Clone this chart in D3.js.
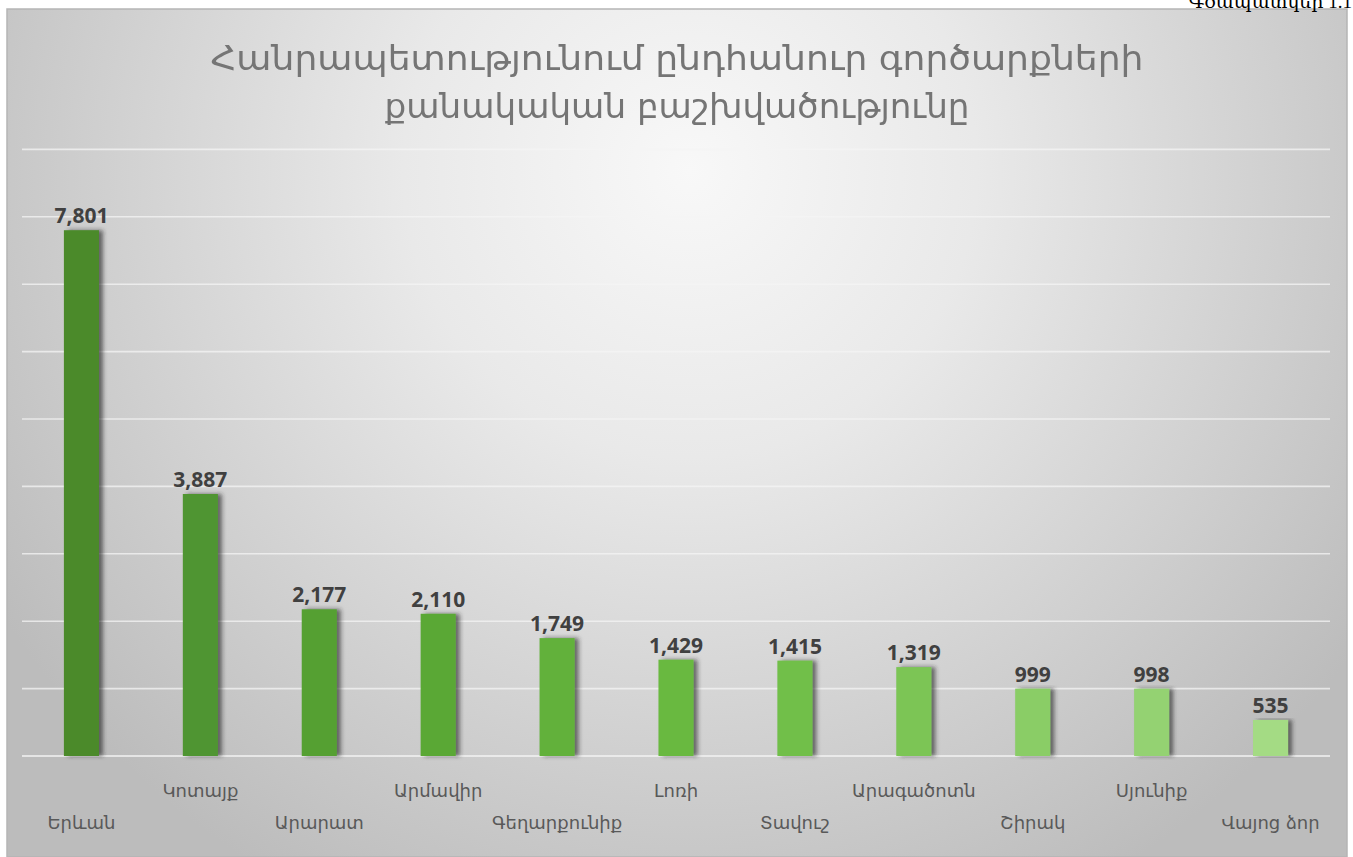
<!DOCTYPE html>
<html>
<head>
<meta charset="utf-8">
<script src="https://cdn.jsdelivr.net/npm/d3@7"></script>
<style>
  html, body { margin: 0; padding: 0; background: #fff; }
  svg { display: block; }
</style>
</head>
<body>
<svg id="chart" width="1353" height="857"></svg>
<script>
// Regions and number of general transactions
const regions = ["Երևան", "Կոտայք", "Արարատ", "Արմավիր", "Գեղարքունիք", "Լոռի",
                 "Տավուշ", "Արագածոտն", "Շիրակ", "Սյունիք", "Վայոց ձոր"];
const counts = [7801, 3887, 2177, 2110, 1749, 1429, 1415, 1319, 999, 998, 535];
const yTicks = [0, 1000, 2000, 3000, 4000, 5000, 6000, 7000, 8000, 9000];
const titleLines = ["Հանրապետությունում ընդհանուր գործարքների",
                    "քանակական բաշխվածությունը"];
const figureLabel = "Գծապատկեր 1.1";

// bar fills, dark to light green
const barFills = ["#4b8a2b", "#4f9530", "#55a032", "#5aa835", "#62b13a", "#69b941",
                  "#71bf49", "#7bc554", "#8acd66", "#94d272", "#a4db84"];

const svg = d3.select("#chart");
const frame = { x: 7, y: 9, w: 1340, h: 848 };
const plot = { left: 22, right: 1330, top: 149.4, bottom: 756 };

const defs = svg.append("defs");
const bg = defs.append("radialGradient").attr("id", "bgGrad")
  .attr("gradientUnits", "userSpaceOnUse")
  .attr("cx", 690).attr("cy", 170).attr("r", 820);
bg.append("stop").attr("offset", "0%").attr("stop-color", "#f8f8f8");
bg.append("stop").attr("offset", "35%").attr("stop-color", "#e9e9e9");
bg.append("stop").attr("offset", "100%").attr("stop-color", "#bcbcbc");

const shadow = defs.append("filter").attr("id", "barShadow")
  .attr("x", "-30%").attr("y", "-5%").attr("width", "180%").attr("height", "110%");
shadow.append("feDropShadow").attr("dx", 4).attr("dy", 0).attr("stdDeviation", 2.2)
  .attr("flood-color", "#2a2a2a").attr("flood-opacity", 0.65);

const soft = defs.append("filter").attr("id", "soft");
soft.append("feGaussianBlur").attr("stdDeviation", 0.5);

// chart frame
svg.append("rect")
  .attr("x", frame.x).attr("y", frame.y).attr("width", frame.w).attr("height", frame.h)
  .attr("fill", "url(#bgGrad)").attr("stroke", "#b5b5b5").attr("stroke-width", 1.5);

// figure caption, top right
svg.append("text")
  .attr("x", 1352).attr("y", 8)
  .attr("text-anchor", "end")
  .attr("font-family", "'Liberation Serif', 'DejaVu Serif', serif")
  .attr("font-size", 19)
  .attr("fill", "#000")
  .text(figureLabel);

const x = d3.scaleBand().domain(regions).range([plot.left, plot.right])
  .paddingInner(0.705).paddingOuter(0.3525);
const y = d3.scaleLinear().domain([0, 9000]).range([plot.bottom, plot.top]);

// gridlines
svg.append("g").selectAll("line").data(yTicks).join("line")
  .attr("x1", plot.left).attr("x2", plot.right)
  .attr("y1", d => y(d)).attr("y2", d => y(d))
  .attr("stroke", "#f4f4f4").attr("stroke-opacity", d => d === 0 ? 0.95 : 0.75)
  .attr("stroke-width", 1.6);

// title
const title = svg.append("g").attr("filter", "url(#soft)");
const titleWidths = [933, 585];
const titleBase = [70, 118];
titleLines.forEach((t, i) => {
  title.append("text")
    .attr("x", 677).attr("y", titleBase[i])
    .attr("text-anchor", "middle")
    .attr("font-family", "'DejaVu Sans', sans-serif")
    .attr("font-size", 34)
    .attr("fill", "#757575")
    .attr("textLength", titleWidths[i])
    .attr("lengthAdjust", "spacingAndGlyphs")
    .text(t);
});

// bars
svg.append("g").selectAll("rect").data(regions).join("rect")
  .attr("x", d => x(d))
  .attr("y", (d, i) => y(counts[i]))
  .attr("width", x.bandwidth())
  .attr("height", (d, i) => y(0) - y(counts[i]))
  .attr("fill", (d, i) => barFills[i])
  .attr("filter", "url(#barShadow)");

// value labels
const fmt = d3.format(",");
svg.append("g").selectAll("text").data(regions).join("text")
  .attr("x", d => x(d) + x.bandwidth() / 2)
  .attr("y", (d, i) => y(counts[i]) - 7)
  .attr("text-anchor", "middle")
  .attr("font-family", "'Open Sans', 'DejaVu Sans', sans-serif")
  .attr("font-size", 21)
  .attr("font-weight", 700)
  .attr("fill", "#404040")
  .text((d, i) => fmt(counts[i]));

// staggered category labels
const xAxis = d3.axisBottom(x).tickSize(0).tickPadding(0);
const ax = svg.append("g").attr("transform", `translate(0,${plot.bottom})`).call(xAxis);
ax.select(".domain").remove();
ax.selectAll(".tick text")
  .attr("y", (d, i) => i % 2 === 0 ? 73 : 41)
  .attr("dy", 0)
  .attr("font-family", "'DejaVu Sans', sans-serif")
  .attr("font-size", 18)
  .attr("fill", "#595959");
</script>
</body>
</html>
